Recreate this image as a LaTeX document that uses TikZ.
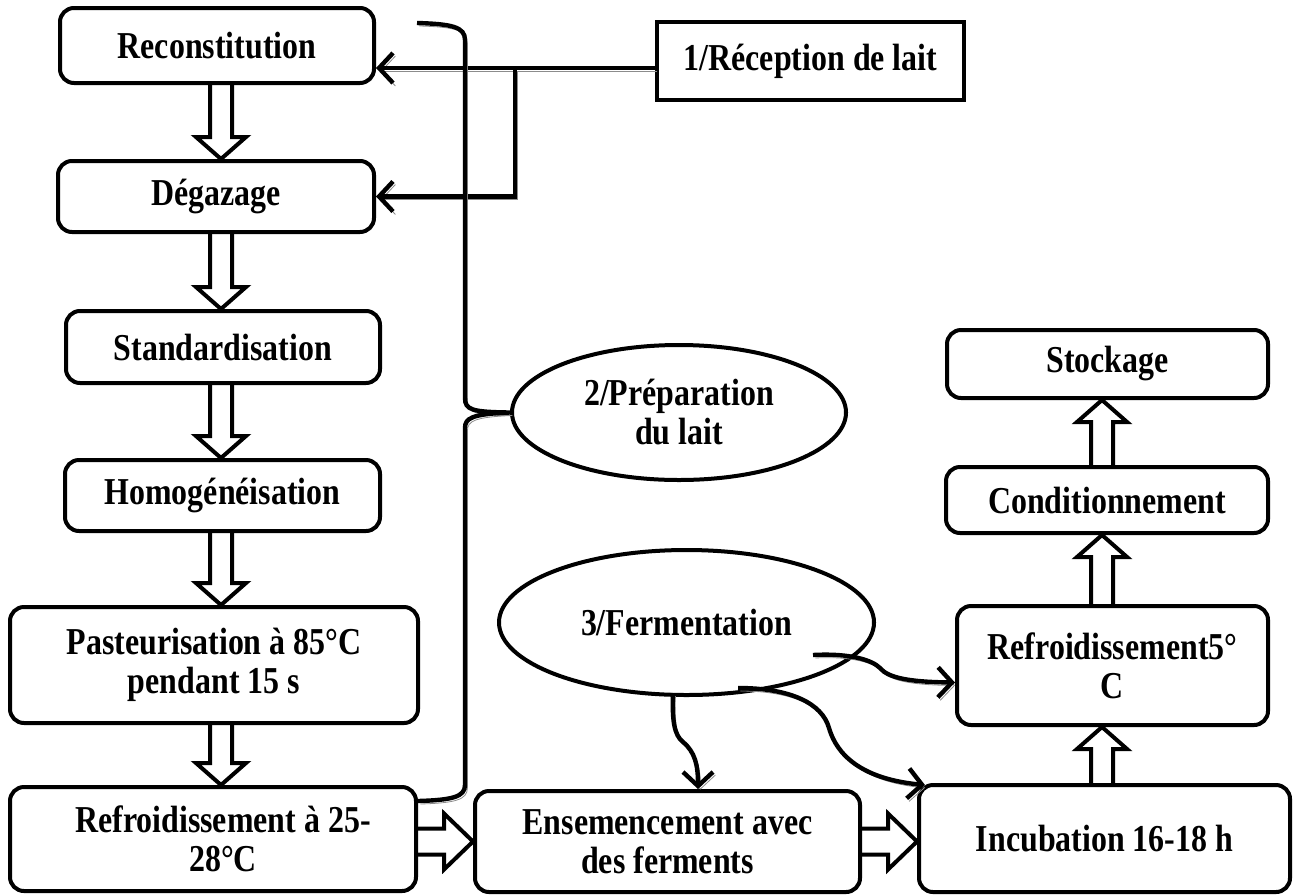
\documentclass[tikz,border=0pt]{standalone}
\usepackage{fontspec}
\setmainfont{Liberation Serif}[FakeStretch=0.84]
\usetikzlibrary{shapes.geometric,arrows.meta,calc}
\begin{document}
\begin{tikzpicture}[x=0.5pt,y=-0.5pt,
  every node/.style={font=\bfseries\fontsize{19}{19.5}\selectfont, align=center, inner sep=0pt},
  box/.style={draw, line width=2pt, rounded corners=7pt},
  sqbox/.style={draw, line width=2pt},
  oval/.style={draw, ellipse, line width=2pt},
  shadowed/.style={preaction={draw=black!45, transform canvas={shift={(1.2pt,-1.5pt)}}}},
  plain/.style={line width=2.2pt, shadowed},
  conn/.style={line width=2.2pt, -{Straight Barb[length=7pt,width=15pt]}, shadowed},
  fat/.style n args={3}{draw, line width=2pt, line join=miter, miter limit=10,
    to path={let \p1=($(\tikztotarget)-(\tikztostart)$), \n1={atan2(\y1,\x1)}, \n2={veclen(\x1,\y1)} in
      ($(\tikztostart)+(\n1+90:#1)$) -- ($(\tikztostart)+(\n1:\n2-#3)+(\n1+90:#1)$)
      -- ($(\tikztostart)+(\n1:\n2-#3)+(\n1+90:#2)$) -- (\tikztotarget)
      -- ($(\tikztostart)+(\n1:\n2-#3)+(\n1-90:#2)$) -- ($(\tikztostart)+(\n1:\n2-#3)+(\n1-90:#1)$)
      -- ($(\tikztostart)+(\n1-90:#1)$)}},
  fatV/.style={fat={5.5pt}{12.5pt}{11pt}},
  fatH/.style={fat={6.5pt}{14pt}{14.5pt}}]
\useasboundingbox (0,0) rectangle (1293,894);

% left column
\node[box, minimum width=157pt, minimum height=37.5pt] (reco) at (217,45.5) {Reconstitution};
\node[box, minimum width=158pt, minimum height=35.5pt] (dega) at (216,196.5) {Dégazage};
\node[box, minimum width=157pt, minimum height=36pt] (stan) at (223,347) {Standardisation};
\node[box, minimum width=157.5pt, minimum height=35.5pt] (homo) at (222.5,495.5) {Homogénéisation};
\node[box, minimum width=204pt, minimum height=58pt] (past) at (214,665) {Pasteurisation à 85°C\\pendant 15 s};
\node[box, minimum width=203pt, minimum height=52pt] (refr1) at (213,839) {\hspace*{10pt}Refroidissement à 25-\\\hspace*{10pt}28°C};

% top right
\node[sqbox, minimum width=153.5pt, minimum height=39pt] (recep) at (810.5,61) {1/Réception de lait};

% ellipses
\node[oval, minimum width=167pt, minimum height=67.5pt] (e2) at (679,412.5) {2/Préparation\\du lait};
\node[oval, minimum width=187.5pt, minimum height=72.5pt] (e3) at (686.5,622.5) {3/Fermentation};

% bottom and right column
\node[box, minimum width=192.5pt, minimum height=50.5pt] (ensem) at (667.5,841.5) {Ensemencement avec\\des ferments};
\node[box, minimum width=185.5pt, minimum height=53.5pt] (incub) at (1104.5,838.5) {Incubation 16-18 h};
\node[box, minimum width=155.5pt, minimum height=59.5pt] (refr5) at (1112.5,665.5) {Refroidissement5°\\C};
\node[box, minimum width=161pt, minimum height=33pt] (cond) at (1107,500) {Conditionnement};
\node[box, minimum width=160.5pt, minimum height=34pt] (stock) at (1107.5,364) {Stockage};

% double arrows
\coordinate (lx) at (221,0);
\coordinate (rx) at (1102,0);
\draw[fatV] (reco.south -| lx) to (dega.north -| lx);
\draw[fatV] (dega.south -| lx) to (stan.north -| lx);
\draw[fatV] (stan.south -| lx) to (homo.north -| lx);
\draw[fatV] (homo.south -| lx) to (past.north -| lx);
\draw[fatV] (past.south -| lx) to (refr1.north -| lx);
\draw[fatH] (refr1.east |- ensem.west) to (ensem.west);
\draw[fatH] (ensem.east) to (incub.west |- ensem.east);
\draw[fatV] (incub.north -| rx) to (refr5.south -| rx);
\draw[fatV] (refr5.north -| rx) to (cond.south -| rx);
\draw[fatV] (cond.north -| rx) to (stock.south -| rx);

% reception connectors
\coordinate (j1) at (515,68);
\draw[conn] (recep.west |- j1) -- (reco.east |- j1);
\draw[conn] (j1) |- (dega.east);

% brace
\coordinate (bt) at (417,23);
\coordinate (bb) at (418,801);
\draw[plain] (bt) .. controls (452,24) and (465,27) .. (465,40) -- (465,398)
  .. controls (465,410) and (472,412) .. (e2.west)
  .. controls (472,414) and (465,418) .. (465,428) -- (465,785)
  .. controls (465,797) and (452,800) .. (bb);

% curved connectors from fermentation
\coordinate (a0) at (813,655);
\coordinate (b0) at (738,688);
\coordinate (c0) at (673,693);
\draw[conn] (a0) .. controls (850,653) and (872,660) .. (880,668)
  .. controls (888,678) and (910,682) .. ($(refr5.west)+(0,17)$);
\draw[conn] (b0) .. controls (790,688) and (822,703) .. (829,728)
  .. controls (834,745) and (850,778) .. ($(incub.north west)+(8,2)$);
\draw[conn] (c0) .. controls (672,720) and (674,735) .. (683,742)
  .. controls (695,752) and (698,765) .. ($(ensem.north)+(30.5,0)$);
\end{tikzpicture}
\end{document}
